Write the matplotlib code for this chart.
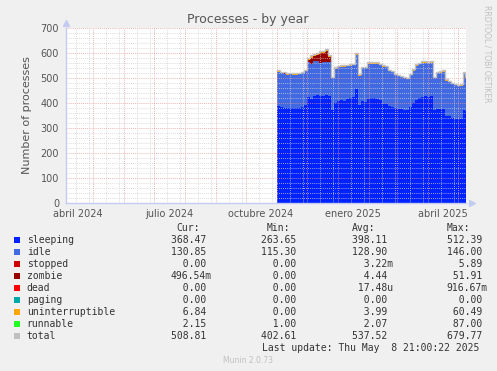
import matplotlib
matplotlib.use("Agg")
import matplotlib.pyplot as plt
import matplotlib.dates as mdates
from matplotlib.patches import Rectangle
import numpy as np
import datetime as dt

# ---------------- data ----------------
start_date = dt.datetime(2024, 11, 1)
day_offsets = [0, 3, 6, 9, 12, 15, 18, 21, 24, 27, 30, 33, 36, 39, 42, 45, 48, 51,
               54, 57, 60, 63, 66, 69, 72, 75, 78, 81, 84, 87, 90, 93, 96, 99, 102,
               105, 108, 111, 114, 117, 120, 123, 126, 129, 132, 135, 138, 141, 144,
               147, 150, 153, 156, 159, 162, 165, 168, 171, 174, 177, 180, 183, 186, 188]
sleeping = [388, 384, 382, 380, 381, 380, 379, 380, 383, 392, 425, 418, 430, 432, 428, 430, 432, 430,
            372, 400, 408, 412, 410, 415, 420, 425, 455, 392, 408, 405, 418, 422, 420, 418, 412,
            398, 396, 390, 385, 382, 378, 375, 372, 372, 385, 400, 412, 420, 425,
            428, 426, 430, 372, 375, 376, 375, 350, 350, 340, 338, 336, 338, 372, 368]
idle = [138, 136, 135, 134, 135, 134, 135, 135, 136, 135, 140, 138, 138, 136, 134, 135, 134, 136,
        128, 138, 136, 134, 136, 133, 130, 128, 138, 118, 132, 135, 140, 136, 138, 140, 140,
        148, 148, 138, 138, 130, 130, 128, 128, 125, 128, 130, 138, 136, 136,
        133, 134, 132, 128, 145, 146, 150, 140, 135, 135, 133, 133, 132, 148, 131]
stopped = [0] * 64
zombie = [0, 0, 2, 0, 0, 0, 0, 0, 0, 0, 6, 25, 20, 25, 38, 35, 42, 20,
          0, 0, 0, 0, 0, 0, 0, 0, 0, 0, 0, 0, 0, 0, 0, 0, 0,
          0, 0, 0, 0, 0, 0, 0, 0, 0, 0, 0, 0, 0, 0,
          0, 0, 0, 0, 0, 0, 0, 0, 0, 0, 0, 0, 0, 0, 0.5]
dead = [0] * 64
paging = [0] * 64
uninterruptible = [4, 4, 4, 3, 3, 3, 3, 3, 4, 4, 8, 8, 6, 5, 5, 6, 6, 4,
                   3, 3, 3, 3, 3, 3, 3, 3, 4, 3, 4, 4, 4, 4, 4, 4, 4,
                   3, 3, 3, 3, 3, 3, 3, 3, 3, 3, 4, 4, 4, 4,
                   4, 4, 4, 3, 4, 4, 4, 3, 3, 3, 3, 3, 3, 4, 7]
runnable = [2] * 64

series_names = ["sleeping", "idle", "stopped", "zombie", "dead", "paging",
                "uninterruptible", "runnable", "total"]
series_colors = ["#0022ff", "#4169e1", "#cc0000", "#990000", "#ff0000", "#00aaaa",
                 "#ffa500", "#22ff22", "#c0c0c0"]
cur_vals = ["368.47 ", "130.85 ", "  0.00 ", "496.54m", "  0.00 ", "  0.00 ", "  6.84 ", "  2.15 ", "508.81 "]
min_vals = ["263.65 ", "115.30 ", "  0.00 ", "  0.00 ", "  0.00 ", "  0.00 ", "  0.00 ", "  1.00 ", "402.61 "]
avg_vals = ["398.11 ", "128.90 ", "  3.22m", "  4.44 ", " 17.48u", "  0.00 ", "  3.99 ", "  2.07 ", "537.52 "]
max_vals = ["512.39 ", "146.00 ", "  5.89 ", " 51.91 ", "916.67m", "  0.00 ", " 60.49 ", " 87.00 ", "679.77 "]

x_tick_labels = ["abril 2024", "julio 2024", "octubre 2024", "enero 2025", "abril 2025"]
x_tick_dates = [dt.datetime(2024, 4, 16), dt.datetime(2024, 7, 16), dt.datetime(2024, 10, 16),
                dt.datetime(2025, 1, 16), dt.datetime(2025, 4, 16)]
y_ticks = [0, 100, 200, 300, 400, 500, 600, 700]

end_time = dt.datetime(2025, 5, 8, 21, 0)
begin_time = end_time - dt.timedelta(days=400)

# ---------------- figure ----------------
W, H = 497, 371
fig = plt.figure(figsize=(W / 100, H / 100), dpi=100)
fig.patch.set_facecolor("#f0f0f0")

L, R, T, B = 66, 466, 28, 203
ax = fig.add_axes([L / W, 1 - B / H, (R - L) / W, (B - T) / H])
ax.set_facecolor("white")

dates = [start_date + dt.timedelta(days=d) for d in day_offsets] + [end_time]
xs = mdates.date2num(dates)

stack_series = [sleeping, idle, stopped, zombie, dead, paging, uninterruptible, runnable]
base = np.zeros(len(xs))
for vals, col in zip(stack_series, series_colors[:8]):
    v = np.array(list(vals) + [vals[-1]], dtype=float)
    ax.fill_between(xs, base, base + v, step="post", color=col, linewidth=0, zorder=3)
    base = base + v
ax.step(xs, base, where="post", color=series_colors[8], linewidth=1.0, zorder=4)

ax.set_xlim(mdates.date2num(begin_time), mdates.date2num(end_time))
ax.set_ylim(0, 700)

# grid
grid_gray = "#cfcfcf"
grid_red = "#e89a9a"
for yv in range(0, 701, 20):
    if yv % 100 == 0:
        continue
    ax.axhline(yv, color=grid_gray, lw=0.6, ls=(0, (1, 1.5)), zorder=5)
for yv in y_ticks[1:]:
    ax.axhline(yv, color=grid_red, lw=0.6, ls=(0, (1, 1.5)), zorder=5)
m = dt.datetime(2024, 4, 1)
while m < end_time:
    for dday in (14, 27):
        mm = m.replace(day=dday)
        if begin_time < mm < end_time:
            ax.axvline(mdates.date2num(mm), color=grid_gray, lw=0.6, ls=(0, (1, 1.5)), zorder=5)
    if m > begin_time:
        ax.axvline(mdates.date2num(m), color=grid_red, lw=0.6, ls=(0, (1, 1.5)), zorder=5)
    m = dt.datetime(m.year + (m.month // 12), m.month % 12 + 1, 1)

# axes styling
for s in ["top", "right"]:
    ax.spines[s].set_visible(False)
for s in ["left", "bottom"]:
    ax.spines[s].set_color("#c4cbf2")
    ax.spines[s].set_linewidth(1.0)
    ax.spines[s].set_zorder(6)
ax.plot([0], [1.03], marker="^", ms=4, color="#c4cbf2", transform=ax.transAxes, clip_on=False)
ax.plot([1.015], [0], marker=">", ms=4, color="#c4cbf2", transform=ax.transAxes, clip_on=False)

ax.set_yticks(y_ticks)
ax.set_yticklabels([str(v) for v in y_ticks])
ax.set_xticks(mdates.date2num(x_tick_dates))
ax.set_xticklabels(x_tick_labels)
ax.tick_params(axis="both", length=0, labelsize=7, colors="#555555")
ax.tick_params(axis="y", pad=5)
ax.tick_params(axis="x", pad=4)

ax.set_ylabel("Number of processes", fontsize=8, color="#555555", labelpad=6)

fig.text(248 / W, 1 - 19 / H, "Processes - by year", ha="center", va="center",
         fontsize=9, color="#555555")
fig.text(487 / W, 1 - 54 / H, "RRDTOOL / TOBI OETIKER", ha="center", va="center",
         rotation=270, fontsize=5.5, color="#c0c0c0")

# legend
mono = "DejaVu Sans Mono"
fs = 7
tc = "#333333"
hy = 228.3
for xh, lab in zip([176.7, 266.7, 351.7, 446.7], ["Cur:", "Min:", "Avg:", "Max:"]):
    fig.text(xh / W, 1 - hy / H, lab, ha="left", va="center", family=mono, fontsize=fs, color=tc)
for i, name in enumerate(series_names):
    y = 240 + i * 11.95
    fig.patches.append(Rectangle((14 / W, 1 - (y + 3) / H), 6 / W, 6 / H,
                                 transform=fig.transFigure, facecolor=series_colors[i],
                                 edgecolor="none"))
    fig.text(26.7 / W, 1 - y / H, name, ha="left", va="center", family=mono, fontsize=fs, color=tc)
    for xc, vals in zip([170.6, 260.7, 351.7, 446.7], [cur_vals, min_vals, avg_vals, max_vals]):
        fig.text(xc / W, 1 - y / H, vals[i], ha="left", va="center", family=mono, fontsize=fs, color=tc)
fig.text(262 / W, 1 - 347.7 / H, "Last update: Thu May  8 21:00:22 2025", ha="left", va="center",
         family=mono, fontsize=fs, color=tc)
fig.text(248 / W, 1 - 360.5 / H, "Munin 2.0.73", ha="center", va="center",
         fontsize=5.5, color="#c0c0c0")

fig.savefig("out.png", dpi=100, facecolor=fig.get_facecolor())
